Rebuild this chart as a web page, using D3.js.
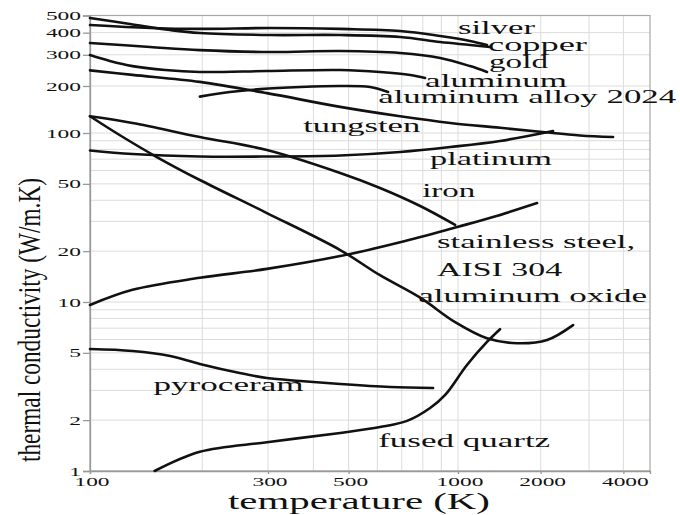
<!DOCTYPE html>
<html>
<head>
<meta charset="utf-8">
<script src="https://cdn.jsdelivr.net/npm/d3@7"></script>
<style>
html, body { margin: 0; padding: 0; background: #fff; }
svg { display: block; font-family: "Liberation Serif", "Times New Roman", serif; }
</style>
</head>
<body>
<svg id="chart" width="680" height="515"></svg>
<script>
// tick labels and grid values
const xTicks = [100, 300, 500, 1000, 2000, 4000];
const yTicks = [1, 2, 5, 10, 20, 50, 100, 200, 300, 400, 500];
const xGrid = [100, 200, 300, 400, 500, 600, 700, 800, 900, 1000, 2000, 3000, 4000];
const yGrid = [1, 2, 3, 4, 5, 6, 7, 8, 9, 10, 20, 30, 40, 50, 60, 70, 80, 90, 100, 200, 300, 400, 500];

// series: [temperature K, conductivity W/m.K]
const silver = [[100, 442], [145, 425], [197, 420], [304, 425], [474, 420], [693, 409], [893, 383], [1106, 359], [1275, 341]];
const copper = [[100, 484], [128, 448], [164, 414], [197, 398], [304, 388], [474, 388], [693, 378], [893, 354], [1106, 341], [1307, 332]];
const gold = [[100, 350], [145, 332], [197, 319], [304, 311], [474, 315], [693, 307], [893, 288], [1106, 259], [1275, 240]];
const aluminum = [[100, 299], [113, 277], [130, 259], [159, 246], [197, 240], [298, 243], [474, 246], [610, 240], [739, 231], [812, 222]];
const alloy2024 = [[197, 171], [237, 183], [286, 191], [368, 197], [474, 200], [573, 197], [642, 183]];
const tungsten = [[100, 245], [130, 231], [197, 211], [298, 180], [474, 147], [693, 128], [952, 116], [1422, 108], [2074, 101], [2782, 96.7], [3668, 94.7]];
const platinum = [[100, 78.8], [130, 75.1], [197, 72.6], [304, 72.6], [474, 73.6], [693, 77.2], [952, 82.6], [1422, 89.7], [2218, 103]];
const iron = [[100, 128], [130, 116], [197, 94.7], [298, 79.3], [474, 58], [610, 47.3], [787, 37], [982, 28.6]];
const aluminumOxide = [[100, 128], [120, 97.3], [151, 72.1], [197, 52.7], [298, 33.6], [474, 20.3], [610, 14.4], [787, 10.6], [982, 7.6], [1275, 6.1], [1640, 5.7], [2110, 5.96], [2623, 7.3]];
const stainless = [[100, 9.6], [130, 11.8], [197, 13.9], [298, 15.7], [474, 18.7], [693, 22.6], [995, 27.8], [1341, 31.8], [1940, 38.5]];
const pyroceram = [[100, 5.27], [130, 5.13], [164, 4.79], [197, 4.30], [252, 3.80], [298, 3.55], [368, 3.41], [474, 3.27], [651, 3.14], [854, 3.10]];
const fusedQuartz = [[149, 1.0], [197, 1.30], [298, 1.48], [474, 1.68], [610, 1.82], [724, 1.98], [838, 2.36], [922, 2.82], [1078, 4.24], [1275, 5.8], [1422, 6.9]];

const series = [silver, copper, gold, aluminum, alloy2024, tungsten, platinum, iron, aluminumOxide, stainless, pyroceram, fusedQuartz];

// label texts and where they sit (left end of baseline, in data units)
const labelTexts = ['silver', 'copper', 'gold', 'aluminum', 'aluminum alloy 2024', 'tungsten', 'platinum', 'iron',
  'stainless steel,', 'AISI 304', 'aluminum oxide', 'pyroceram', 'fused quartz'];
const labelAt = [[1000, 392], [1286, 317], [1297, 253], [812, 197], [603, 156], [375, 101], [838, 64.7], [797, 41.8],
  [876, 20.9], [876, 14.2], [777, 10.0], [148, 2.97], [603, 1.39]];
const labelWidths = [77, 99, 59, 142, 298, 117, 122, 53, 198, 125, 229, 150, 172];

const plotLeft = 90, plotRight = 650, plotTop = 15.5, plotBottom = 471;

// the picture was stretched unevenly, so both axes are piecewise log
const x = d3.scaleLog().domain([100, 300, 1000, 5000]).range([plotLeft, 268, 458, plotRight]);
const y = d3.scaleLog().domain([1, 100, 200, 500]).range([plotBottom, 133, 86, plotTop]);

const svg = d3.select('#chart');

// grid
svg.append('g')
  .selectAll('line')
  .data(xGrid)
  .join('line')
  .attr('x1', d => x(d)).attr('x2', d => x(d))
  .attr('y1', plotTop).attr('y2', plotBottom)
  .attr('stroke', '#dcdcdc').attr('stroke-width', 1);
svg.append('g')
  .selectAll('line')
  .data(yGrid)
  .join('line')
  .attr('x1', plotLeft).attr('x2', plotRight)
  .attr('y1', d => y(d)).attr('y2', d => y(d))
  .attr('stroke', '#dcdcdc').attr('stroke-width', 1);

// frame
svg.append('rect')
  .attr('x', plotLeft).attr('y', plotTop)
  .attr('width', plotRight - plotLeft).attr('height', plotBottom - plotTop)
  .attr('fill', 'none').attr('stroke', '#a8a8a8').attr('stroke-width', 1.2);

// axes
const yAxis = d3.axisLeft(y).tickValues(yTicks).tickSize(7).tickFormat('');
svg.append('g').attr('transform', `translate(${plotLeft},0)`).call(yAxis)
  .call(g => g.selectAll('line, path').attr('stroke', '#999').attr('stroke-width', 1.3));
const xAxis = d3.axisBottom(x).tickValues(xTicks).tickSize(3).tickFormat('');
svg.append('g').attr('transform', `translate(0,${plotBottom})`).call(xAxis)
  .call(g => g.selectAll('line, path').attr('stroke', '#999').attr('stroke-width', 1.3));

// tick labels, drawn wide like the stretched original
svg.append('g')
  .selectAll('text')
  .data(yTicks)
  .join('text')
  .attr('x', plotLeft - 9)
  .attr('y', d => y(d) + 4.5)
  .attr('text-anchor', 'end')
  .attr('font-size', 13)
  .attr('textLength', d => String(d).length * 11.7)
  .attr('lengthAdjust', 'spacingAndGlyphs')
  .attr('fill', '#111')
  .text(d => d);

svg.append('g')
  .selectAll('text')
  .data(xTicks)
  .join('text')
  .attr('x', d => x(d) + 2)
  .attr('y', plotBottom + 15)
  .attr('text-anchor', 'middle')
  .attr('font-size', 13)
  .attr('textLength', d => String(d).length * 11.7)
  .attr('lengthAdjust', 'spacingAndGlyphs')
  .attr('fill', '#111')
  .text(d => d);

// curves
const line = d3.line()
  .x(d => x(d[0]))
  .y(d => y(d[1]))
  .curve(d3.curveCatmullRom.alpha(0.5));

svg.append('g')
  .selectAll('path')
  .data(series)
  .join('path')
  .attr('d', line)
  .attr('fill', 'none')
  .attr('stroke', '#111')
  .attr('stroke-width', 2.6)
  .attr('stroke-linecap', 'round')
  .attr('stroke-linejoin', 'round');

// curve labels
svg.append('g')
  .selectAll('text')
  .data(labelTexts)
  .join('text')
  .attr('x', (d, i) => x(labelAt[i][0]))
  .attr('y', (d, i) => y(labelAt[i][1]))
  .attr('font-size', 19)
  .attr('textLength', (d, i) => labelWidths[i])
  .attr('lengthAdjust', 'spacingAndGlyphs')
  .attr('fill', '#111')
  .text(d => d);

// axis titles
svg.append('text')
  .attr('x', 228)
  .attr('y', 509)
  .attr('font-size', 23)
  .attr('textLength', 262)
  .attr('lengthAdjust', 'spacingAndGlyphs')
  .attr('fill', '#111')
  .text('temperature (K)');

svg.append('text')
  .attr('transform', 'translate(40,320) rotate(-90)')
  .attr('text-anchor', 'middle')
  .attr('font-size', 32)
  .attr('textLength', 284)
  .attr('lengthAdjust', 'spacingAndGlyphs')
  .attr('fill', '#111')
  .text('thermal conductivity (W/m.K)');
</script>
</body>
</html>
